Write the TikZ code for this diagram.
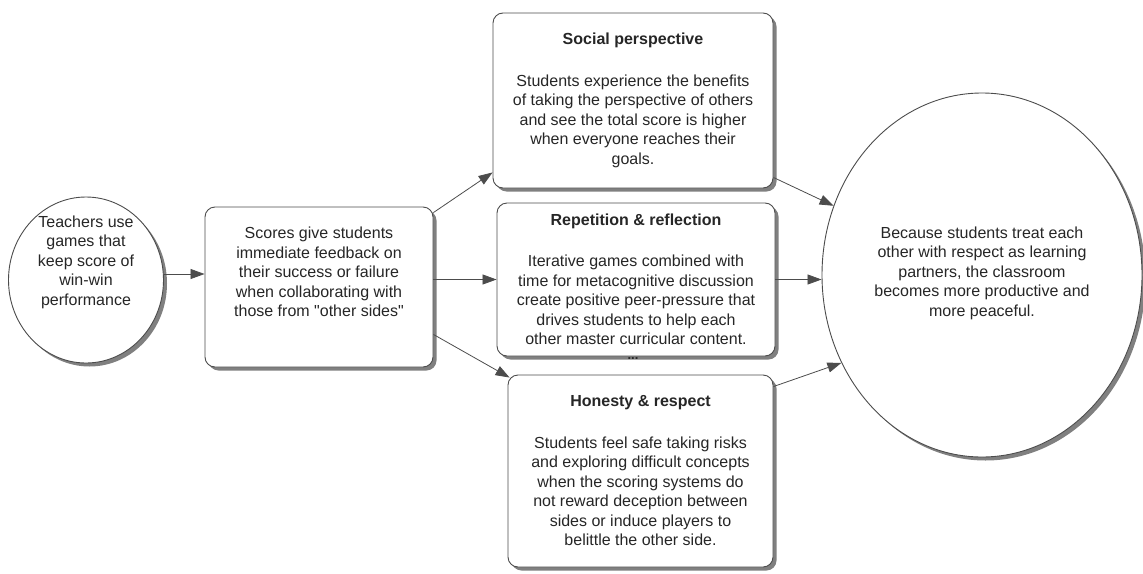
\documentclass[tikz,border=0pt]{standalone}
\usepackage{fontspec}
\setmainfont{Liberation Sans}
\usetikzlibrary{arrows.meta,shapes.geometric,shadows,positioning}

\tikzset{
  card/.style={draw=black!70, fill=white, rounded corners=10pt, line width=0.9pt,
    general shadow={fill=black!50, shadow xshift=3.5pt, shadow yshift=-3.5pt}},
  oval/.style={ellipse, draw=black!70, fill=white, line width=0.9pt, inner sep=0pt,
    general shadow={fill=black!50, shadow xshift=3.5pt, shadow yshift=-3.5pt}},
  txt/.style={align=center, font=\fontsize{16}{19.5}\selectfont, text=black!85},
  link/.style={draw=black!70, line width=0.8pt, -{Triangle[length=14pt,width=10pt]}},
}

\begin{document}
\begin{tikzpicture}[x=1pt,y=-1pt]
  \useasboundingbox (0,0) rectangle (1143,573);

  % start and middle
  \node[oval, minimum width=155pt, minimum height=166pt] (teach) at (86,280) {};
  \node[txt] (teachtxt) at (86,262) {Teachers use\\games that\\keep score of\\win-win\\performance};
  \node[card, minimum width=228pt, minimum height=160pt] (scores) at (319,287) {};
  \node[txt] (scorestxt) at (319,272) {Scores give students\\immediate feedback on\\their success or failure\\when collaborating with\\those from \textquotedbl other sides\textquotedbl};

  % the three effects
  \node[card, txt, minimum width=280pt, minimum height=175pt] (social) at (633,100.5)
    {\textbf{Social perspective}\\[22pt]Students experience the benefits\\of taking the perspective of others\\and see the total score is higher\\when everyone reaches their\\goals.};
  \node[card, txt, minimum width=278pt, minimum height=153pt] (repet) at (636,279.5)
    {\textbf{Repetition \& reflection}\\[22pt]Iterative games combined with\\time for metacognitive discussion\\create positive peer-pressure that\\drives students to help each\\other master curricular content.};
  \node[font=\bfseries\fontsize{13}{13}\selectfont, text=black!85, inner sep=0pt] (dots) at (633,359) {...};
  \node[card, txt, minimum width=265pt, minimum height=192pt] (honest) at (640.5,471)
    {\textbf{Honesty \& respect}\\[22pt]Students feel safe taking risks\\and exploring difficult concepts\\when the scoring systems do\\not reward deception between\\sides or induce players to\\belittle the other side.};

  % outcome
  \node[oval, minimum width=320pt, minimum height=364pt] (big) at (982,275) {};
  \node[txt] (bigtxt) at (982,273) {Because students treat each\\other with respect as learning\\partners, the classroom\\becomes more productive and\\more peaceful.};

  \draw[link] ([yshift=6pt]teach.east) -- ([yshift=6pt]teach.east -| scores.west);
  \draw[link] ([yshift=-6pt]scores.north east) -- ([yshift=16pt]social.south west);
  \draw[link] (scores.east |- repet.west) -- (repet.west);
  \draw[link] ([yshift=33pt]scores.south east) -- ([xshift=2pt,yshift=-3pt]honest.north west);
  \draw[link] ([yshift=11pt]social.south east) -- (big.155);
  \draw[link] (repet.east) -- (repet.east -| big.west);
  \draw[link] ([yshift=-12pt]honest.north east) -- (big.212);
\end{tikzpicture}
\end{document}
